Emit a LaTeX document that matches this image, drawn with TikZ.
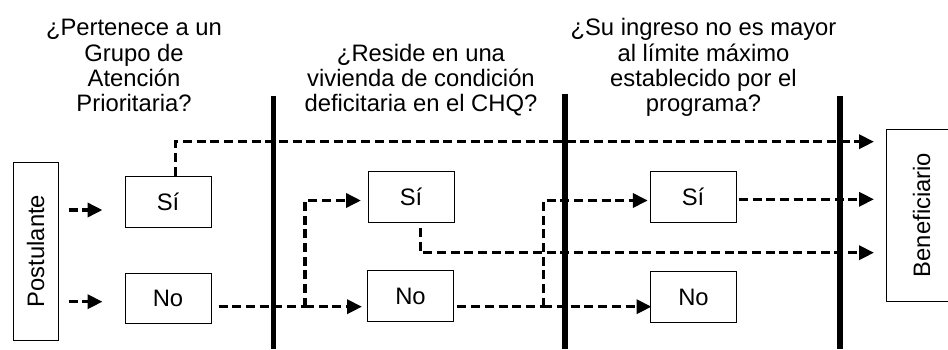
\documentclass[tikz,border=0pt]{standalone}
\usepackage{fontspec}
\setmainfont{Liberation Sans}
\usetikzlibrary{arrows.meta}
\tikzset{
  box/.style={draw, line width=1pt, inner sep=0pt, minimum width=86pt, minimum height=51pt, font=\fontsize{23.8}{25.3}\selectfont},
  lbl/.style={align=center, inner sep=0pt, font=\fontsize{23.8}{25.3}\selectfont, anchor=base},
  dsh/.style={line width=3.5pt, dash pattern=on 9pt off 4.7pt},
  arr/.style={dsh, -{Triangle[length=15pt,width=14pt]}},
  sep/.style={line width=5.5pt},
}
\begin{document}
\begin{tikzpicture}[x=1pt,y=-1pt]
\clip (0,0) rectangle (948,349);
% separators
\draw[sep] (273.3,95.5) -- (273.3,349);
\draw[sep] (565,93.5) -- (565,349);
\draw[sep] (840,95.5) -- (840,349);
% labels (base anchor = baseline of the last line)
\node[lbl] (q1) at (134,111.7) {¿Pertenece a un\\Grupo de\\Atención\\Prioritaria?};
\node[lbl] (q2) at (421,111.7) {¿Reside en una\\vivienda de condición\\deficitaria en el CHQ?};
\node[lbl] (q3) at (703.5,111.7) {¿Su ingreso no es mayor\\al límite máximo\\establecido por el\\programa?};
% boxes
\node[box, minimum width=178pt, minimum height=45pt, rotate=90] (post) at (35.5,251) {Postulante};
\node[box] (si1) at (168,201.5) {Sí};
\node[box, minimum height=50pt] (no1) at (168,298) {No};
\node[box] (si2) at (411,197) {Sí};
\node[box] (no2) at (410.5,296.4) {No};
\node[box] (si3) at (693,197) {Sí};
\node[box] (no3) at (693.5,297.2) {No};
\node[box, minimum width=172pt, minimum height=71pt, rotate=90] (ben) at (921.5,215) {Beneficiario};
% branch points
\coordinate (b1) at (305,306.7);
\coordinate (b2) at (543.3,306.7);
% connectors
\draw[arr, shorten <=10pt, shorten >=22pt] (post.south |- 0,210) -- (si1.west |- 0,210);
\draw[arr, shorten <=10pt, shorten >=22pt] (post.south |- 0,301.7) -- (no1.west |- 0,301.7);
\draw[arr, shorten >=11.5pt] ([xshift=7.7pt]si1.north) |- (ben.north |- 0,141.7);
\draw[dsh, shorten <=7pt] (no1.east |- 0,306.7) -- (b1);
\draw[arr, shorten >=6.5pt] (b1) |- (si2.west |- 0,200.5);
\draw[arr, shorten >=5pt] (b1) -- (no2.west |- 0,306.7);
\draw[arr, shorten >=11.5pt] ([xshift=9.5pt,yshift=-5pt]si2.south) |- (ben.north |- 0,252.7);
\draw[dsh, shorten <=3.4pt] (no2.east |- 0,306.7) -- (b2);
\draw[arr, shorten >=1.7pt] (b2) |- (si3.west |- 0,200.5);
\draw[arr] (b2) -- ([xshift=1.5pt]no3.west |- 0,306.7);
\draw[arr, shorten <=2.3pt, shorten >=11.5pt] (si3.east |- 0,199.3) -- (ben.north |- 0,199.3);
\end{tikzpicture}
\end{document}
